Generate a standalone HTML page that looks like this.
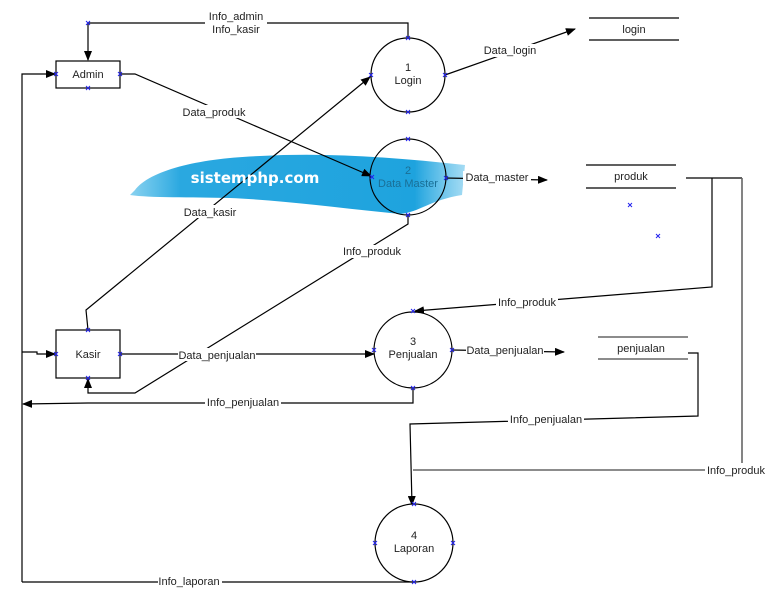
<!DOCTYPE html>
<html><head><meta charset="utf-8"><style>
html,body{margin:0;padding:0;background:#fff;}
svg{display:block;font-family:"Liberation Sans",sans-serif;}
.l{stroke:#000;stroke-width:1.2;fill:none}
.g{stroke:#666;stroke-width:1.6;fill:none}
.t{font-size:11px;fill:#222;text-anchor:middle}
.bg{fill:#fff}
.x{stroke:#2222ee;stroke-width:1}
</style></head><body>
<svg width="773" height="590" viewBox="0 0 773 590" xmlns="http://www.w3.org/2000/svg">
<defs>
<marker id="a" markerWidth="10" markerHeight="8" refX="9" refY="4" orient="auto" markerUnits="userSpaceOnUse"><path d="M0,0 L10,4 L0,8 z" fill="#000"/></marker>
<linearGradient id="bl" x1="0" x2="1"><stop offset="0" stop-color="#3bb4e6" stop-opacity="0.6"/><stop offset="0.15" stop-color="#2aa8e0"/><stop offset="0.85" stop-color="#1ea3de"/><stop offset="1" stop-color="#4ab8e8" stop-opacity="0.5"/></linearGradient>
</defs>
<!-- watermark -->
<path d="M135,190 C150,170 200,158 260,156 C330,152 400,158 465,165 L462,195 C430,200 420,212 400,214 C340,208 280,200 230,198 C190,197 150,198 130,195 Z" fill="url(#bl)"/>

<!-- stores -->
<line class="l" x1="589" y1="18" x2="679" y2="18"/><line class="l" x1="589" y1="40" x2="679" y2="40"/>
<text class="t" x="634" y="33">login</text>
<line class="l" x1="586" y1="165" x2="676" y2="165"/><line class="l" x1="586" y1="188" x2="676" y2="188"/>
<text class="t" x="631" y="180">produk</text>
<line class="g" x1="598" y1="337" x2="688" y2="337"/><line class="g" x1="598" y1="359" x2="688" y2="359"/>
<text class="t" x="641" y="352">penjualan</text>

<!-- connectors -->
<polyline class="l" points="408,38 408,23 88,23 88,60" marker-end="url(#a)"/>
<polyline class="l" points="22,582 22,74 55,74" marker-end="url(#a)"/>
<polyline class="l" points="22,352 37,352 37,354 55,354" marker-end="url(#a)"/>
<polyline class="l" points="413,388 413,403 88,403 23,404" marker-end="url(#a)"/>
<polyline class="l" points="414,582 22,582"/>
<polyline class="l" points="120,74 135,74 371,176" marker-end="url(#a)"/>
<polyline class="l" points="88,330 86,310 370,77" marker-end="url(#a)"/>
<polyline class="l" points="120,354 374,354" marker-end="url(#a)"/>
<polyline class="l" points="408,215 408,224 135,393 88,393 88,379" marker-end="url(#a)"/>
<polyline class="l" points="445,75 575,29" marker-end="url(#a)"/>
<polyline class="l" points="445,178 547,180" marker-end="url(#a)"/>
<polyline class="l" points="686,178 742,178"/>
<polyline class="l" points="712,178 712,287 415,311" marker-end="url(#a)"/>
<polyline class="g" points="742,178 742,470 413,470"/>
<polyline class="l" points="452,350 564,352" marker-end="url(#a)"/>
<polyline class="l" points="688,353 698,353 698,416 410,424 412,505" marker-end="url(#a)"/>

<!-- labels -->
<rect class="bg" x="205" y="9" width="62" height="28"/>
<text class="t" x="236" y="20">Info_admin</text><text class="t" x="236" y="33">Info_kasir</text>
<rect class="bg" x="180" y="105" width="68" height="13"/><text class="t" x="214" y="116">Data_produk</text>
<rect class="bg" x="180" y="205" width="60" height="13"/><text class="t" x="210" y="216">Data_kasir</text>
<rect class="bg" x="342" y="245" width="62" height="13"/><text class="t" x="372" y="255">Info_produk</text>
<rect class="bg" x="178" y="348" width="78" height="13"/><text class="t" x="217" y="359">Data_penjualan</text>
<rect class="bg" x="205" y="396" width="76" height="13"/><text class="t" x="243" y="406">Info_penjualan</text>
<rect class="bg" x="158" y="575" width="64" height="13"/><text class="t" x="189" y="585">Info_laporan</text>
<rect class="bg" x="482" y="44" width="56" height="13"/><text class="t" x="510" y="54">Data_login</text>
<rect class="bg" x="463" y="171" width="68" height="13"/><text class="t" x="497" y="181">Data_master</text>
<rect class="bg" x="496" y="296" width="62" height="13"/><text class="t" x="527" y="306">Info_produk</text>
<rect class="bg" x="466" y="344" width="78" height="13"/><text class="t" x="505" y="354">Data_penjualan</text>
<rect class="bg" x="508" y="412" width="76" height="13"/><text class="t" x="546" y="423">Info_penjualan</text>
<rect class="bg" x="705" y="463" width="62" height="13"/><text class="t" x="736" y="474">Info_produk</text>

<!-- entities -->
<rect x="56" y="61" width="64" height="27" fill="#fff" stroke="#000" stroke-width="1.2"/>
<text class="t" x="88" y="78">Admin</text>
<rect x="56" y="330" width="64" height="48" fill="#fff" stroke="#000" stroke-width="1.2"/>
<text class="t" x="88" y="358">Kasir</text>

<!-- processes -->
<circle cx="408" cy="75" r="37" fill="#fff" stroke="#000" stroke-width="1.2"/>
<text class="t" x="408" y="71">1</text><text class="t" x="408" y="84">Login</text>
<circle cx="408" cy="177" r="38" fill="none" stroke="#000" stroke-width="1.2"/>
<text class="t" x="408" y="174" style="fill:#1a6f96">2</text><text class="t" x="408" y="187" style="fill:#1a6f96">Data Master</text>
<ellipse cx="413" cy="350" rx="39" ry="38" fill="#fff" stroke="#000" stroke-width="1.2"/>
<text class="t" x="413" y="345">3</text><text class="t" x="413" y="358">Penjualan</text>
<ellipse cx="414" cy="543" rx="39" ry="39" fill="#fff" stroke="#000" stroke-width="1.2"/>
<text class="t" x="414" y="539">4</text><text class="t" x="414" y="552">Laporan</text>

<!-- watermark text -->
<text x="255" y="183" text-anchor="middle" style="font-size:15px;font-weight:bold;fill:#fff;font-family:'DejaVu Sans',sans-serif">sistemphp.com</text>

<!-- x markers -->
<g class="x">
<path d="M86,21l4,4M90,21l-4,4 M86,86l4,4M90,86l-4,4 M118,72l4,4M122,72l-4,4 M54,72l4,4M58,72l-4,4
M406,36l4,4M410,36l-4,4 M406,110l4,4M410,110l-4,4 M369,73l4,4M373,73l-4,4 M443,73l4,4M447,73l-4,4
M406,137l4,4M410,137l-4,4 M406,213l4,4M410,213l-4,4 M370,175l4,4M374,175l-4,4 M444,176l4,4M448,176l-4,4
M628,203l4,4M632,203l-4,4 M656,234l4,4M660,234l-4,4
M86,328l4,4M90,328l-4,4 M86,376l4,4M90,376l-4,4 M54,352l4,4M58,352l-4,4 M118,352l4,4M122,352l-4,4
M411,309l4,4M415,309l-4,4 M411,386l4,4M415,386l-4,4 M372,348l4,4M376,348l-4,4 M450,348l4,4M454,348l-4,4
M412,502l4,4M416,502l-4,4 M412,580l4,4M416,580l-4,4 M373,541l4,4M377,541l-4,4 M451,541l4,4M455,541l-4,4"/>
</g>
</svg>
</body></html>
